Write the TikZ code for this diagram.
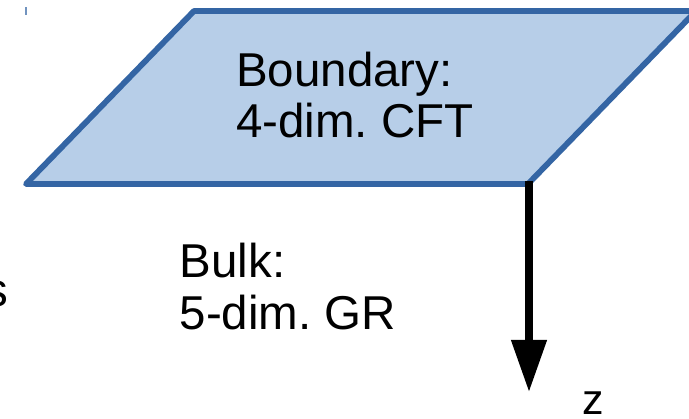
\documentclass[tikz,border=0pt]{standalone}
\usepackage{fontspec}
\setmainfont{Liberation Sans}
\usetikzlibrary{arrows.meta}
\frenchspacing
\definecolor{planefill}{RGB}{183,206,232}
\definecolor{planeline}{RGB}{52,101,164}
\tikzset{
  plane/.style={draw=planeline, fill=planefill, line width=5.8pt, line join=round},
  bigtext/.style={inner sep=0pt, anchor=base west, font=\fontsize{47.5}{51}\selectfont},
  axis/.style={line width=7.5pt, -{Triangle[length=52pt,width=34pt]}},
}
\begin{document}
\begin{tikzpicture}[x=1pt,y=-1pt]
\clip (0,0) rectangle (689,419);
\fill[white] (0,0) rectangle (689,419);
% boundary plane
\coordinate (bl) at (26,184);
\coordinate (tl) at (194,11);
\coordinate (tr) at (696,11);
\coordinate (br) at (528,184);
\draw[plane] (bl) -- (tl) -- (tr) -- (br) -- cycle;
% small mark
\draw[planeline!70, line width=1.6pt] (25.8,7.5) -- (25.8,15.5);
% labels
\node[bigtext] (b1) at (236,87) {Boundary:};
\node[bigtext] (b2) at (236,138) {4-dim.\ CFT};
\node[bigtext] (k1) at (179.5,278) {Bulk:};
\node[bigtext] (k2) at (179.5,330) {5-dim.\ GR};
\node[inner sep=0pt, anchor=base east, font=\fontsize{47.5}{51}\selectfont] (s) at (8.5,307) {s};
% z axis
\coordinate (zstart) at (529,181);
\coordinate (zend) at (529,392);
\draw[axis] (zstart) -- (zend);
\node[inner sep=0pt, anchor=base west, font=\fontsize{43}{46}\selectfont] (z) at (582,415) {z};
\end{tikzpicture}
\end{document}
